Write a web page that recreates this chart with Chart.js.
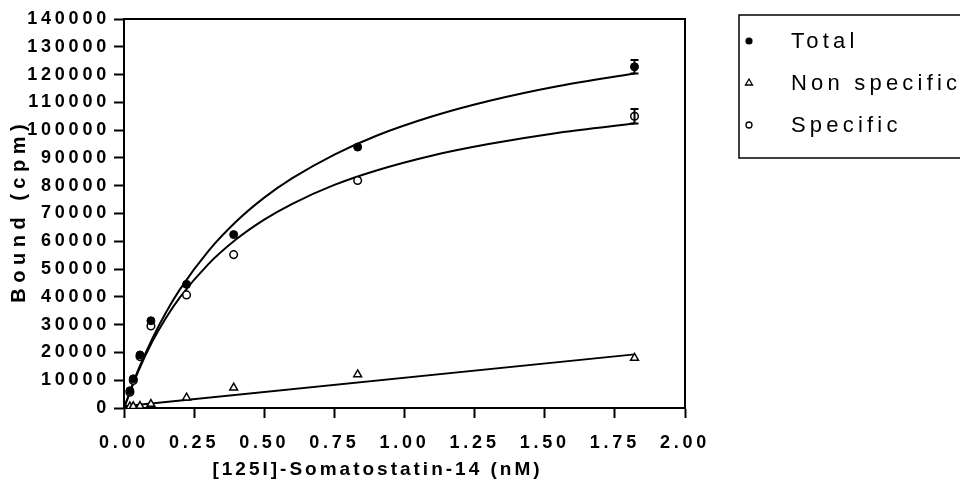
<!DOCTYPE html>
<html>
<head>
<meta charset="utf-8">
<script src="https://cdn.jsdelivr.net/npm/chart.js@4.4.0/dist/chart.umd.min.js"></script>
<style>
html, body { margin: 0; padding: 0; background: #fff; }
canvas { display: block; }
</style>
</head>
<body>
<canvas id="bindingChart" width="960" height="504"></canvas>
<script>
// measured points (nM vs cpm)
const concentration = [0.021, 0.033, 0.057, 0.096, 0.223, 0.391, 0.833, 1.82];
const totalBound = [6200, 10500, 19100, 31400, 44500, 62400, 93900, 122800];
const nonSpecificBound = [500, 600, 700, 1400, 3700, 7300, 12100, 18000];
const specificBound = [5700, 9900, 18500, 29500, 40700, 55200, 81900, 105000];
const totalErr = [0, 0, 0, 0, 0, 0, 0, 2400];
const specificErr = [0, 0, 0, 0, 0, 0, 0, 2600];

// fitted curves
const fitX = [0, 0.05, 0.1, 0.15, 0.2, 0.3, 0.4, 0.5, 0.6, 0.75, 0.9, 1.1, 1.3, 1.55, 1.82];
const totalFit = [0, 13500, 24800, 34500, 42800, 56400, 67100, 75700, 82700, 91200, 98000, 105000, 110500, 115900, 120400];
const specificFit = [0, 13000, 23700, 32500, 39900, 51700, 60700, 67800, 73500, 80300, 85500, 90900, 95000, 99100, 102400];
const nsFitX = [0, 1.82];
const nsFit = [600, 19300];

const seriesNames = ["Total", "Non specific", "Specific"];
const xTicks = [0, 0.25, 0.5, 0.75, 1.0, 1.25, 1.5, 1.75, 2.0];
const yTicks = [0, 10000, 20000, 30000, 40000, 50000, 60000, 70000, 80000, 90000, 100000, 110000, 120000, 130000, 140000];
const xTitle = "[125I]-Somatostatin-14 (nM)";
const yTitle = "Bound (cpm)";

const FONT = '"Liberation Sans", Arial, sans-serif';

function pts(xs, ys) {
    return xs.map((x, i) => ({ x: x, y: ys[i] }));
}

const errorBars = {
    id: "errorBars",
    afterDatasetsDraw(chart) {
        const ctx = chart.ctx;
        const xs = chart.scales.x, ys = chart.scales.y;
        [[totalBound, totalErr], [specificBound, specificErr]].forEach(([vals, errs]) => {
            vals.forEach((v, i) => {
                if (!errs[i]) return;
                const px = xs.getPixelForValue(concentration[i]);
                const top = ys.getPixelForValue(v + errs[i]);
                const bot = ys.getPixelForValue(v - errs[i]);
                ctx.save();
                ctx.strokeStyle = "#000";
                ctx.lineWidth = 2;
                ctx.beginPath();
                ctx.moveTo(px, top); ctx.lineTo(px, bot);
                ctx.moveTo(px - 4, top); ctx.lineTo(px + 4, top);
                ctx.moveTo(px - 4, bot); ctx.lineTo(px + 4, bot);
                ctx.stroke();
                ctx.restore();
            });
        });
    }
};

const frameAndText = {
    id: "frameAndText",
    beforeDraw(chart) {
        chart.ctx.letterSpacing = "3.8px";
    },
    afterDraw(chart) {
        const ctx = chart.ctx;
        const a = chart.chartArea;
        ctx.save();
        // top and right frame
        ctx.strokeStyle = "#000";
        ctx.lineWidth = 2;
        ctx.beginPath();
        ctx.moveTo(a.left, a.top);
        ctx.lineTo(a.right, a.top);
        ctx.lineTo(a.right, a.bottom);
        ctx.stroke();

        ctx.fillStyle = "#000";
        // x title
        ctx.letterSpacing = "3px";
        ctx.font = "bold 19px " + FONT;
        ctx.textAlign = "center";
        ctx.textBaseline = "middle";
        ctx.fillText(xTitle, 376 + 1.5, 470);

        // y title
        ctx.save();
        ctx.translate(19, (a.top + a.bottom) / 2);
        ctx.rotate(-Math.PI / 2);
        ctx.letterSpacing = "5.5px";
        ctx.font = "bold 20px " + FONT;
        ctx.fillText(yTitle, 2.75, 0);
        ctx.restore();

        // legend box
        ctx.lineWidth = 1.5;
        ctx.strokeRect(739, 15, 240, 143);
        const rows = [42, 84, 126];
        ctx.letterSpacing = "4.2px";
        ctx.font = "22px " + FONT;
        ctx.textAlign = "left";
        seriesNames.forEach((name, i) => {
            const y = rows[i];
            const mx = 749;
            ctx.beginPath();
            ctx.lineWidth = 1.3;
            if (i === 0) {
                ctx.arc(mx, y - 1, 3.6, 0, Math.PI * 2);
                ctx.fill();
            } else if (i === 1) {
                ctx.moveTo(mx, y - 5);
                ctx.lineTo(mx + 3.5, y + 1);
                ctx.lineTo(mx - 3.5, y + 1);
                ctx.closePath();
                ctx.stroke();
            } else {
                ctx.arc(mx, y - 1, 3, 0, Math.PI * 2);
                ctx.stroke();
            }
            ctx.fillText(name, 791, y);
        });
        ctx.restore();
    }
};

const axisStyle = {
    border: { display: true, color: "#000", width: 2 },
    grid: { display: true, drawOnChartArea: false, drawTicks: true, tickLength: 10, tickWidth: 2, tickColor: "#000" }
};

new Chart(document.getElementById("bindingChart"), {
    type: "scatter",
    data: {
        datasets: [
            { label: seriesNames[0], data: pts(concentration, totalBound), pointStyle: "circle", pointRadius: 4,
              backgroundColor: "#000", borderColor: "#000", borderWidth: 1, showLine: false },
            { label: seriesNames[1], data: pts(concentration, nonSpecificBound), pointStyle: "triangle", pointRadius: 4.5,
              backgroundColor: "#fff", borderColor: "#000", borderWidth: 1.5, showLine: false },
            { label: seriesNames[2], data: pts(concentration, specificBound), pointStyle: "circle", pointRadius: 3.8,
              backgroundColor: "#fff", borderColor: "#000", borderWidth: 1.5, showLine: false },
            { label: "fit total", data: pts(fitX, totalFit), showLine: true, pointRadius: 0, borderColor: "#000",
              borderWidth: 2, cubicInterpolationMode: "monotone" },
            { label: "fit specific", data: pts(fitX, specificFit), showLine: true, pointRadius: 0, borderColor: "#000",
              borderWidth: 2, cubicInterpolationMode: "monotone" },
            { label: "fit non specific", data: pts(nsFitX, nsFit), showLine: true, pointRadius: 0, borderColor: "#000",
              borderWidth: 2 }
        ]
    },
    options: {
        responsive: false,
        animation: false,
        devicePixelRatio: 1,
        layout: { padding: { left: 0, top: 19, right: 275, bottom: 0 } },
        plugins: { legend: { display: false }, tooltip: { enabled: false } },
        scales: {
            x: {
                type: "linear", min: 0, max: 2,
                ...axisStyle,
                afterBuildTicks: s => { s.ticks = xTicks.map(v => ({ value: v })); },
                afterFit: s => { s.height = 96; },
                ticks: { color: "#000", padding: 14, maxRotation: 0, autoSkip: false,
                         font: { family: FONT, size: 18, weight: "bold" },
                         callback: v => v.toFixed(2) }
            },
            y: {
                type: "linear", min: 0, max: 140000,
                ...axisStyle,
                afterBuildTicks: s => { s.ticks = yTicks.map(v => ({ value: v })); },
                afterFit: s => { s.width = 124; },
                ticks: { color: "#000", padding: 4, autoSkip: false,
                         font: { family: FONT, size: 18, weight: "bold" },
                         callback: v => String(v) }
            }
        }
    },
    plugins: [errorBars, frameAndText]
});
</script>
</body>
</html>
